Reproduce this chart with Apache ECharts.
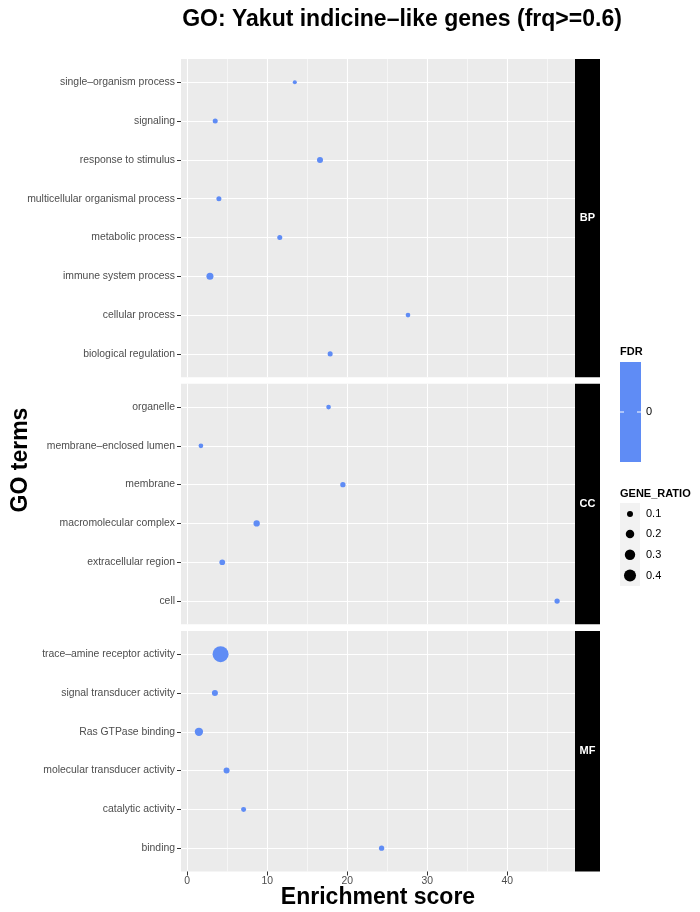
<!DOCTYPE html>
<html><head><meta charset="utf-8">
<script src="https://cdn.jsdelivr.net/npm/echarts@6/dist/echarts.min.js"></script>
<style>html,body{margin:0;padding:0;background:#fff}#c{width:700px;height:912px}</style>
</head><body><div id="c"></div>
<script>
// ---------- data ----------
const facets = ['BP', 'CC', 'MF'];
const bpTerms = ['single–organism process', 'signaling', 'response to stimulus', 'multicellular organismal process', 'metabolic process', 'immune system process', 'cellular process', 'biological regulation'];
const bpScore = [13.45, 3.5, 16.6, 3.96, 11.57, 2.84, 27.6, 17.87];
const bpRatio = [0.045, 0.07, 0.10, 0.07, 0.07, 0.136, 0.061, 0.07];
const ccTerms = ['organelle', 'membrane–enclosed lumen', 'membrane', 'macromolecular complex', 'extracellular region', 'cell'];
const ccScore = [17.67, 1.71, 19.46, 8.68, 4.38, 46.24];
const ccRatio = [0.061, 0.061, 0.078, 0.11, 0.09, 0.078];
const mfTerms = ['trace–amine receptor activity', 'signal transducer activity', 'Ras GTPase binding', 'molecular transducer activity', 'catalytic activity', 'binding'];
const mfScore = [4.17, 3.46, 1.46, 4.92, 7.05, 24.3];
const mfRatio = [0.71, 0.10, 0.19, 0.10, 0.069, 0.078];
const fdrValues = [0];
const xMajorTicks = [0, 10, 20, 30, 40];
const xMinorTicks = [5, 15, 25, 35, 45];
const ratioBreaks = [0.1, 0.2, 0.3, 0.4];
const fdrBreaks = [0];

// ---------- styling / layout ----------
const FONT = "'Liberation Sans', Arial, Helvetica, sans-serif";
const PT_COLOR = '#5f8cf5';
const LABEL_SIZE = 10.4;
const sizeOf = r => 19 * Math.sqrt(r);
const panelTerms = [bpTerms, ccTerms, mfTerms];
const panelScore = [bpScore, ccScore, mfScore];
const panelRatio = [bpRatio, ccRatio, mfRatio];
const UNIT = 38.8, GAP = 6.6, TOP0 = 59, LEFT = 181, PW = 394, STRIP_W = 25;

const allX = [].concat(bpScore, ccScore, mfScore);
const xlo = Math.min(...allX), xhi = Math.max(...allX), span = xhi - xlo;
const xMin = xlo - 0.05 * span, xMax = xhi + 0.05 * span;

const grids = [], xAxes = [], yAxes = [], series = [], graphics = [];
let yPos = TOP0;
panelTerms.forEach((terms, p) => {
  const n = terms.length;
  const h = (n + 0.2) * UNIT;
  const last = p === panelTerms.length - 1;
  grids.push({left: LEFT, top: yPos, width: PW, height: h, show: true, backgroundColor: '#ebebeb', borderWidth: 0, containLabel: false});
  xAxes.push({
    type: 'value', gridIndex: p, min: xMin, max: xMax, position: 'bottom',
    axisLine: {show: false, onZero: false},
    axisTick: {show: last, length: 4, customValues: xMajorTicks, lineStyle: {color: '#333333', width: 1}},
    axisLabel: {show: last, customValues: xMajorTicks, margin: 5, color: '#4d4d4d', fontSize: LABEL_SIZE, fontFamily: FONT},
    splitLine: {show: true, lineStyle: {color: '#ffffff', width: 1.1}}
  });
  xAxes.push({
    type: 'value', gridIndex: p, min: xMin, max: xMax, position: 'bottom',
    axisLine: {show: false, onZero: false},
    axisTick: {show: false, customValues: xMinorTicks},
    axisLabel: {show: false},
    splitLine: {show: true, lineStyle: {color: '#ffffff', width: 0.55}}
  });
  yAxes.push({
    type: 'value', gridIndex: p, inverse: true, min: -0.6, max: n - 0.4, position: 'left',
    axisLine: {show: false, onZero: false},
    axisTick: {show: true, length: 4, customValues: terms.map((t, i) => i), lineStyle: {color: '#333333', width: 1}},
    axisLabel: {show: true, customValues: terms.map((t, i) => i), margin: 6, color: '#4d4d4d', fontSize: LABEL_SIZE, fontFamily: FONT,
      formatter: v => terms[Math.round(v)] || ''},
    splitLine: {show: true, lineStyle: {color: '#ffffff', width: 1.1}}
  });
  series.push({
    type: 'scatter', xAxisIndex: p * 2, yAxisIndex: p,
    data: terms.map((t, i) => [panelScore[p][i], i, panelRatio[p][i]]),
    symbolSize: v => sizeOf(v[2]),
    itemStyle: {color: PT_COLOR, opacity: 1},
    emphasis: {disabled: true}, silent: true, z: 3
  });
  graphics.push({type: 'rect', shape: {x: LEFT + PW, y: yPos, width: STRIP_W, height: h}, style: {fill: '#000000'}});
  graphics.push({type: 'text', x: LEFT + PW + STRIP_W / 2, y: yPos + h / 2,
    style: {text: facets[p], fill: '#ffffff', font: `bold 11px ${FONT}`, align: 'center', verticalAlign: 'middle'}});
  yPos += h + GAP;
});

graphics.push({type: 'text', x: 402, y: 20, style: {text: 'GO: Yakut indicine–like genes (frq>=0.6)', fill: '#000', font: `bold 23px ${FONT}`, align: 'center', verticalAlign: 'middle'}});
graphics.push({type: 'text', x: LEFT + PW / 2, y: 898, style: {text: 'Enrichment score', fill: '#000', font: `bold 23px ${FONT}`, align: 'center', verticalAlign: 'middle'}});
graphics.push({type: 'text', x: 21, y: 460, rotation: Math.PI / 2, style: {text: 'GO terms', fill: '#000', font: `bold 23px ${FONT}`, align: 'center', verticalAlign: 'middle'}});

graphics.push({type: 'text', x: 620, y: 352, style: {text: 'FDR', fill: '#000', font: `bold 11px ${FONT}`, align: 'left', verticalAlign: 'middle'}});
graphics.push({type: 'rect', shape: {x: 620, y: 362, width: 21, height: 100}, style: {fill: PT_COLOR}});
fdrBreaks.forEach(b => {
  graphics.push({type: 'line', shape: {x1: 620, y1: 412, x2: 624, y2: 412}, style: {stroke: '#ffffff', lineWidth: 1}});
  graphics.push({type: 'line', shape: {x1: 637, y1: 412, x2: 641, y2: 412}, style: {stroke: '#ffffff', lineWidth: 1}});
  graphics.push({type: 'text', x: 646, y: 412, style: {text: String(b), fill: '#000', font: `11px ${FONT}`, align: 'left', verticalAlign: 'middle'}});
});

graphics.push({type: 'text', x: 620, y: 494, style: {text: 'GENE_RATIO', fill: '#000', font: `bold 11px ${FONT}`, align: 'left', verticalAlign: 'middle'}});
graphics.push({type: 'rect', shape: {x: 620, y: 503, width: 20, height: 83}, style: {fill: '#f2f2f2'}});
const keyY = [514, 534, 554.7, 575.5];
ratioBreaks.forEach((b, i) => {
  graphics.push({type: 'circle', shape: {cx: 630, cy: keyY[i], r: sizeOf(b) / 2}, style: {fill: '#000'}});
  graphics.push({type: 'text', x: 646, y: keyY[i], style: {text: b.toFixed(1), fill: '#000', font: `11px ${FONT}`, align: 'left', verticalAlign: 'middle'}});
});

const chart = echarts.init(document.getElementById('c'), null, {renderer: 'canvas'});
chart.setOption({
  animation: false,
  backgroundColor: '#ffffff',
  grid: grids, xAxis: xAxes, yAxis: yAxes, series: series,
  graphic: graphics
});
</script></body></html>
